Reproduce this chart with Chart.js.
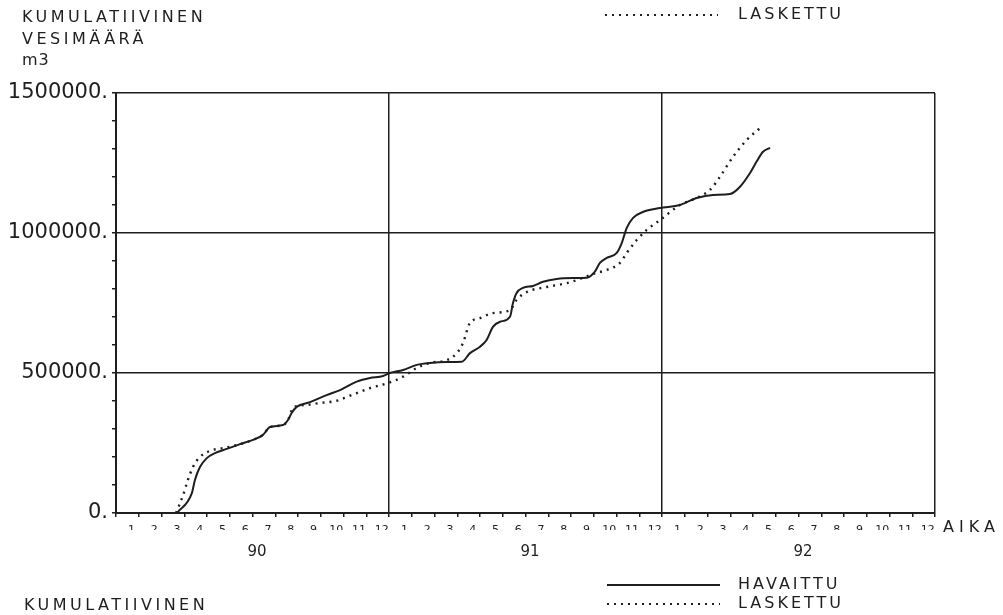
<!DOCTYPE html>
<html>
<head>
<meta charset="utf-8">
<script src="https://cdn.jsdelivr.net/npm/chart.js@4.4.1/dist/chart.umd.min.js"></script>
<style>
  html, body { margin: 0; background: #fff; }
  #wrap { width: 1003px; height: 615px; }
</style>
</head>
<body>
<div id="wrap"><canvas id="vesi"></canvas></div>
<script>
// time axis in months from the start of 1990 (0 = 1.1.1990, 36 = end of 1992)
const havaittuKk = [2.68, 3.33, 3.47, 3.69, 3.99, 4.35, 4.87, 5.45, 6.02, 6.46, 6.77, 7.34, 7.56, 7.72, 7.94,
  8.53, 9.26, 9.85, 10.58, 11.16, 11.74, 12.04, 12.62, 13.22, 13.80, 14.54, 15.20, 15.56, 16.00, 16.29,
  16.57, 16.88, 17.32, 17.45, 17.61, 17.89, 18.33, 18.77, 19.37, 20.09, 20.69, 21.05, 21.27, 21.57,
  22.01, 22.23, 22.45, 22.73, 23.16, 23.91, 24.79, 25.52, 26.24, 26.99, 27.43, 27.87, 28.16, 28.44, 28.75];
const havaittuM3 = [0, 70000, 118000, 164000, 196000, 214000, 229000, 246000, 261000, 279000, 307000, 314000,
  332000, 357000, 379000, 396000, 421000, 439000, 469000, 482000, 489000, 500000, 511000, 529000, 536000,
  539000, 540000, 571000, 594000, 618000, 665000, 683000, 701000, 750000, 786000, 804000, 811000, 826000,
  836000, 839000, 840000, 862000, 893000, 911000, 929000, 964000, 1018000, 1054000, 1075000, 1089000,
  1100000, 1125000, 1136000, 1139000, 1165000, 1214000, 1255000, 1290000, 1304000];

const laskettuKk = [2.64, 2.95, 3.16, 3.38, 3.69, 4.13, 4.70, 5.14, 6.02, 6.46, 6.77, 7.34, 7.56, 7.78, 8.38,
  8.97, 9.70, 10.2, 11.16, 11.96, 12.62, 13.22, 13.80, 14.54, 14.98, 15.25, 15.56, 16.00, 16.57, 17.32,
  17.61, 18.05, 18.93, 19.81, 20.40, 20.97, 21.57, 22.15, 22.45, 22.89, 23.33, 23.91, 24.79, 25.52,
  26.11, 26.55, 27.12, 27.72, 28.31];
const laskettuM3 = [0, 64000, 118000, 164000, 200000, 222000, 232000, 239000, 261000, 279000, 307000, 314000,
  332000, 375000, 386000, 393000, 401000, 416000, 446000, 464000, 487000, 518000, 536000, 546000, 571000,
  607000, 679000, 696000, 714000, 725000, 761000, 789000, 807000, 821000, 836000, 854000, 868000, 893000,
  929000, 975000, 1011000, 1046000, 1100000, 1125000, 1154000, 1201000, 1272000, 1332000, 1375000];

const kuukaudet = ['1', '2', '3', '4', '5', '6', '7', '8', '9', '10', '11', '12'];
const vuodet = ['90', '91', '92'];
const yArvot = [0, 500000, 1000000, 1500000];

const INK = '#1e1e1e';
const FONT = "'DejaVu Sans', sans-serif";

function points(xs, ys) {
  return xs.map((x, i) => ({ x: x, y: ys[i] }));
}

// month boundaries carry tick marks, labels sit inside each month
const kkRajat = [];
for (let i = 0; i <= 36; i++) kkRajat.push(i);
const kkKohdat = [];
for (let i = 0; i < 36; i++) kkKohdat.push(i + 0.68);

// texts and legend drawn around the plot
const tekstit = {
  id: 'tekstit',
  afterDraw(chart) {
    const c = chart.ctx;
    c.save();
    c.fillStyle = INK;
    c.strokeStyle = INK;
    c.textBaseline = 'middle';
    c.textAlign = 'left';
    c.font = '16px ' + FONT;
    c.letterSpacing = '3.5px';
    c.fillText('KUMULATIIVINEN', 22, 18);
    c.fillText('VESIMÄÄRÄ', 22, 40);
    c.fillText('KUMULATIIVINEN', 24, 606);
    c.letterSpacing = '1px';
    c.fillText('m3', 22, 61);
    c.letterSpacing = '5px';
    c.fillText('AIKA', 943, 528);

    // legend at the bottom, and the same legend cut by the top edge
    c.letterSpacing = '3px';
    c.fillText('HAVAITTU', 738, 585);
    c.fillText('LASKETTU', 738, 604);
    c.fillText('HAVAITTU', 738, -5);
    c.fillText('LASKETTU', 738, 15);

    c.lineWidth = 2;
    c.beginPath();
    c.moveTo(607, 585);
    c.lineTo(720, 585);
    c.stroke();

    c.setLineDash([2, 5]);
    c.beginPath();
    c.moveTo(607, 604);
    c.lineTo(720, 604);
    c.stroke();
    c.beginPath();
    c.moveTo(605, 15);
    c.lineTo(718, 15);
    c.stroke();
    c.restore();
  }
};

const isMain = (v, list) => list.indexOf(v) !== -1;

new Chart(document.getElementById('vesi'), {
  type: 'line',
  data: {
    datasets: [
      {
        label: 'HAVAITTU',
        data: points(havaittuKk, havaittuM3),
        borderColor: INK,
        borderWidth: 2,
        pointRadius: 0,
        cubicInterpolationMode: 'monotone'
      },
      {
        label: 'LASKETTU',
        data: points(laskettuKk, laskettuM3),
        borderColor: INK,
        borderWidth: 2.4,
        borderDash: [2, 5],
        pointRadius: 0,
        cubicInterpolationMode: 'monotone'
      }
    ]
  },
  options: {
    responsive: true,
    maintainAspectRatio: false,
    animation: false,
    events: [],
    layout: { padding: { top: 93, right: 68, left: 0, bottom: 0 } },
    plugins: { legend: { display: false }, tooltip: { enabled: false } },
    scales: {
      x: {
        type: 'linear', position: 'bottom', min: 0, max: 36,
        afterBuildTicks: s => { s.ticks = kkRajat.map(v => ({ value: v })); },
        afterFit: s => { s.height = 1; },
        ticks: { display: false },
        grid: {
          color: ctx => isMain(ctx.tick && ctx.tick.value, [12, 24, 36]) ? INK : 'rgba(0,0,0,0)',
          lineWidth: 1.5,
          tickColor: INK,
          tickLength: 4
        },
        border: { color: INK, width: 2 }
      },
      xm: {
        type: 'linear', position: 'bottom', min: 0, max: 36,
        afterBuildTicks: s => { s.ticks = kkKohdat.map(v => ({ value: v })); },
        afterFit: s => { s.height = 16; },
        ticks: {
          autoSkip: false, maxRotation: 0, padding: 2,
          color: INK, font: { family: FONT, size: 11 },
          callback: v => kuukaudet[Math.floor(v) % 12]
        },
        grid: { display: false },
        border: { display: false }
      },
      xv: {
        type: 'linear', position: 'bottom', min: 0, max: 36,
        afterBuildTicks: s => { s.ticks = vuodet.map((v, i) => ({ value: i * 12 + 6.2 })); },
        afterFit: s => { s.height = 85; },
        ticks: {
          autoSkip: false, maxRotation: 0, padding: 5,
          color: INK, font: { family: FONT, size: 15 },
          callback: v => vuodet[Math.floor(v / 12)]
        },
        grid: { display: false },
        border: { display: false }
      },
      y: {
        min: 0, max: 1500000,
        afterBuildTicks: s => {
          const t = [];
          for (let v = 0; v <= 1500000; v += 100000) t.push({ value: v });
          s.ticks = t;
        },
        afterFit: s => { s.width = 116; },
        ticks: {
          autoSkip: false, padding: 4,
          color: INK, font: { family: FONT, size: 21 },
          callback: v => isMain(v, yArvot) ? v + '.' : ''
        },
        grid: {
          color: ctx => isMain(ctx.tick && ctx.tick.value, [500000, 1000000, 1500000]) ? INK : 'rgba(0,0,0,0)',
          lineWidth: 1.5,
          tickColor: INK,
          tickLength: 4
        },
        border: { color: INK, width: 2 }
      }
    }
  },
  plugins: [tekstit]
});
</script>
</body>
</html>
